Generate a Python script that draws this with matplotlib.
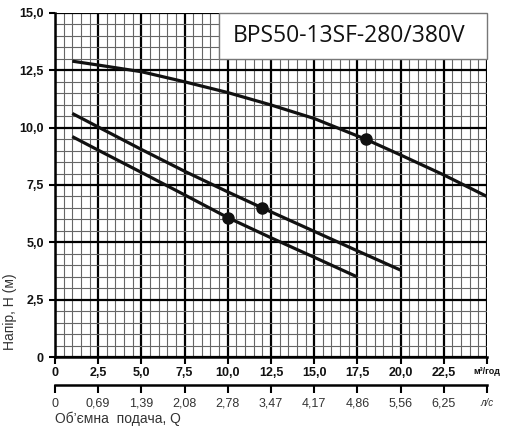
import numpy as np
import matplotlib.pyplot as plt
from matplotlib.patches import Rectangle

# Характеристики насоса (Q, м³/год -> H, м)
q_top = [1.0, 2.5, 5.0, 7.5, 10.0, 12.5, 15.0, 18.0, 20.0, 22.5, 25.0]
h_top = [12.9, 12.73, 12.44, 12.0, 11.53, 10.99, 10.4, 9.49, 8.81, 7.94, 7.0]

q_mid = [1.0, 2.5, 5.0, 7.5, 10.0, 12.0, 15.0, 17.5, 20.0]
h_mid = [10.62, 10.03, 9.05, 8.1, 7.2, 6.5, 5.48, 4.63, 3.79]

q_low = [1.0, 2.5, 5.0, 7.5, 10.0, 12.5, 15.0, 17.5]
h_low = [9.61, 9.02, 8.05, 7.07, 6.08, 5.2, 4.35, 3.49]

# робочі точки
op_q = [18.0, 12.0, 10.0]
op_h = [9.49, 6.49, 6.08]

x_ticks = [0, 2.5, 5.0, 7.5, 10.0, 12.5, 15.0, 17.5, 20.0, 22.5, 25.0]
x_labels = ['0', '2,5', '5,0', '7,5', '10,0', '12,5', '15,0', '17,5', '20,0', '22,5', 'м³/год']
ls_labels = ['0', '0,69', '1,39', '2,08', '2,78', '3,47', '4,17', '4,86', '5,56', '6,25', 'л/с']
y_ticks = [0, 2.5, 5.0, 7.5, 10.0, 12.5, 15.0]
y_labels = ['0', '2,5', '5,0', '7,5', '10,0', '12,5', '15,0']
title = 'BPS50-13SF-280/380V'

plt.rcParams['font.family'] = ['Liberation Sans', 'DejaVu Sans']

fig = plt.figure(figsize=(5.12, 4.33), dpi=100)
ax = fig.add_axes([0.1074, 0.1755, 0.8436, 0.7945])
ax.set_xlim(0, 25)
ax.set_ylim(0, 15)

# сітка
ax.set_xticks(np.arange(0, 25.01, 0.5), minor=True)
ax.set_yticks(np.arange(0, 15.01, 0.5), minor=True)
ax.grid(which='minor', color='#666666', lw=0.8)
ax.grid(which='major', color='black', lw=1.6)
ax.set_axisbelow(True)

ax.set_xticks(x_ticks)
ax.set_xticklabels(x_labels)
ax.set_yticks(y_ticks)
ax.set_yticklabels(y_labels)
for lab in ax.get_xticklabels() + ax.get_yticklabels():
    lab.set_fontweight('bold')
    lab.set_fontsize(9)
    lab.set_color('#111111')
ax.get_xticklabels()[-1].set_fontsize(6.5)
ax.tick_params(axis='x', which='major', direction='out', length=5, width=1.5, pad=2)
ax.tick_params(axis='y', which='major', direction='out', length=4, width=1.5, pad=4)
ax.tick_params(which='minor', length=0)

for s in ['top', 'right']:
    ax.spines[s].set_visible(False)
for s in ['left', 'bottom']:
    ax.spines[s].set_linewidth(1.8)

# криві
for q, h in [(q_top, h_top), (q_mid, h_mid), (q_low, h_low)]:
    ax.plot(q, h, color='#111111', lw=2.3, solid_capstyle='butt', zorder=4)
ax.plot(op_q, op_h, 'o', color='#111111', ms=8, zorder=5)

# назва
ax.add_patch(Rectangle((9.5, 13.0), 15.5, 2.0, facecolor='white',
                       edgecolor='#777777', lw=1, zorder=3, clip_on=False))
ax.text(10.3, 14.0, title, fontsize=16.5, va='center', ha='left',
        family=['Open Sans', 'DejaVu Sans'], color='#111111', zorder=4)

# шкала л/с
sec = ax.secondary_xaxis(-0.0814)
sec.set_xticks(x_ticks)
sec.set_xticklabels(ls_labels)
sec.spines['bottom'].set_linewidth(1.8)
sec.tick_params(direction='out', length=6, width=1.5, pad=3, labelsize=9,
                labelcolor='#333333')
sec.get_xticklabels()[-1].set_fontsize(7)
sec.get_xticklabels()[-1].set_fontstyle('italic')

fig.text(10 / 512, 1 - 312 / 433, 'Напір, H (м)', rotation=90, fontsize=10,
         ha='center', va='center', color='#333333')
fig.text(55 / 512, 1 - 419 / 433, 'Об’ємна  подача, Q', fontsize=10,
         ha='left', va='center', color='#333333')

fig.savefig('out.png', dpi=100)
